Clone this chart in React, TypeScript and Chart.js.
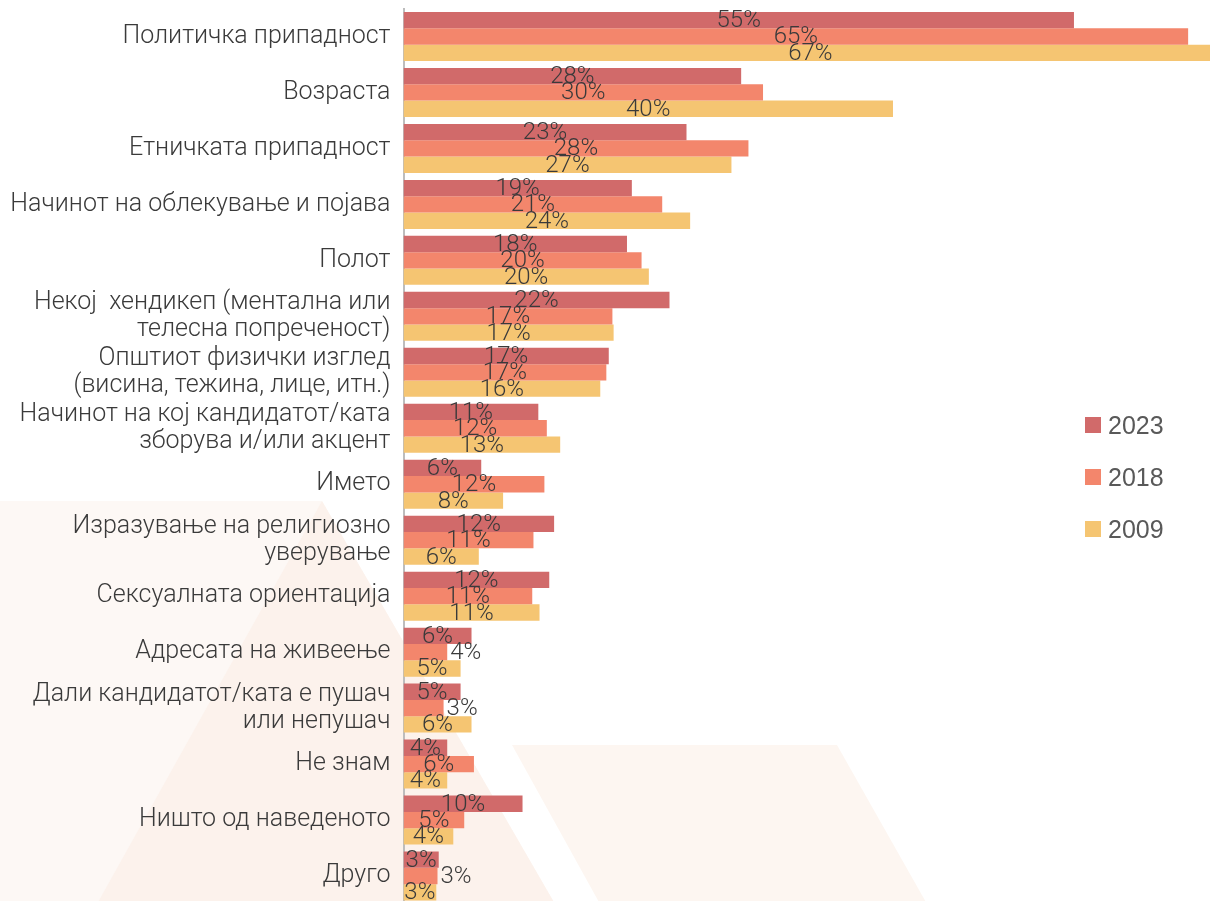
import React, { useEffect, useRef } from "react";
import { Chart, registerables } from "chart.js";

Chart.register(...registerables);

const categories: (string | string[])[] = [
  "Политичка припадност",
  "Возраста",
  "Етничката припадност",
  "Начинот на облекување и појава",
  "Полот",
  ["Некој  хендикеп (ментална или", "телесна попреченост)"],
  ["Општиот физички изглед", "(висина, тежина, лице, итн.)"],
  ["Начинот на кој кандидатот/ката", "зборува и/или акцент"],
  "Името",
  ["Изразување на религиозно", "уверување"],
  "Сексуалната ориентација",
  "Адресата на живеење",
  ["Дали кандидатот/ката е пушач", "или непушач"],
  "Не знам",
  "Ништо од наведеното",
  "Друго",
];

const seriesNames = ["2023", "2018", "2009"];
const values2023 = [55.2, 27.8, 23.3, 18.8, 18.4, 21.9, 16.9, 11.1, 6.4, 12.4, 12.0, 5.6, 4.7, 3.6, 9.8, 2.9];
const values2018 = [64.6, 29.6, 28.4, 21.3, 19.6, 17.2, 16.7, 11.8, 11.6, 10.7, 10.6, 3.6, 3.3, 5.8, 5.0, 2.8];
const values2009 = [67.0, 40.3, 27.0, 23.6, 20.2, 17.3, 16.2, 12.9, 8.2, 6.2, 11.2, 4.7, 5.6, 3.6, 4.1, 2.7];

const seriesColors = ["#d16a6a", "#f3866c", "#f5c572"];

const backgroundPlugin = {
  id: "bgShapes",
  beforeDraw(chart: any) {
    const ctx = chart.ctx;
    ctx.save();
    ctx.fillStyle = "#fdf8f5";
    ctx.beginPath();
    ctx.moveTo(0, 501);
    ctx.lineTo(322, 501);
    ctx.lineTo(555, 904);
    ctx.lineTo(0, 904);
    ctx.closePath();
    ctx.fill();
    ctx.fillStyle = "#fcf2ec";
    ctx.beginPath();
    ctx.moveTo(97, 904);
    ctx.lineTo(322, 501);
    ctx.lineTo(555, 904);
    ctx.closePath();
    ctx.fill();
    ctx.fillStyle = "#fdf6f1";
    ctx.beginPath();
    ctx.moveTo(512, 745);
    ctx.lineTo(837, 745);
    ctx.lineTo(927, 904);
    ctx.lineTo(600, 904);
    ctx.closePath();
    ctx.fill();
    ctx.restore();
  },
};

const labelPlugin = {
  id: "barLabels",
  afterDatasetsDraw(chart: any) {
    const ctx = chart.ctx;
    ctx.save();
    ctx.font = "300 24px Roboto";
    ctx.fillStyle = "#3a3a3a";
    ctx.textBaseline = "middle";
    chart.data.datasets.forEach((ds: any, di: number) => {
      const meta = chart.getDatasetMeta(di);
      meta.data.forEach((bar: any, i: number) => {
        const text = Math.round(ds.data[i]) + "%";
        const w = ctx.measureText(text).width;
        const barW = bar.x - bar.base;
        if (di === 1 && barW < w + 14) {
          ctx.textAlign = "left";
          ctx.fillText(text, bar.x + 3, bar.y + 1);
        } else {
          ctx.textAlign = "center";
          ctx.fillText(text, (bar.x + bar.base) / 2, bar.y + 1);
        }
      });
    });
    ctx.restore();
  },
};

export default function App() {
  const canvasRef = useRef<HTMLCanvasElement | null>(null);

  useEffect(() => {
    document.body.style.margin = "0";
    const canvas = canvasRef.current;
    if (!canvas) return;
    const data = [values2023, values2018, values2009];
    const chart = new Chart(canvas, {
      type: "bar",
      data: {
        labels: categories,
        datasets: seriesNames.map((name, i) => ({
          label: name,
          data: data[i],
          backgroundColor: seriesColors[i],
          borderWidth: 0,
          categoryPercentage: 0.876,
          barPercentage: 1.0,
        })),
      },
      options: {
        indexAxis: "y",
        responsive: false,
        animation: false,
        devicePixelRatio: 1,
        layout: { padding: { top: 8.5, left: 0, right: 0, bottom: 0 } },
        plugins: {
          legend: { display: false },
          tooltip: { enabled: false },
        },
        scales: {
          x: {
            display: false,
            min: 0,
            max: 66.4,
          },
          y: {
            grid: { display: false, drawTicks: false },
            border: { display: true, color: "#bdbdbd", width: 2 },
            ticks: {
              autoSkip: false,
              color: "#3a3a3a",
              padding: 13,
              font: { family: "Roboto", size: 25, weight: "300", lineHeight: 1.06 },
            },
            afterFit: (scale: any) => {
              scale.width = 403.5;
              scale.paddingTop = 0;
              scale.paddingBottom = 0;
            },
          },
        },
      },
      plugins: [backgroundPlugin, labelPlugin],
    } as any);
    return () => chart.destroy();
  }, []);

  return (
    <div style={{ position: "relative", width: 1210, height: 901, overflow: "hidden", background: "#fff" }}>
      <canvas ref={canvasRef} width={1210} height={904} style={{ display: "block" }} />
      {seriesNames.map((name, i) => (
        <div
          key={name}
          style={{
            position: "absolute",
            left: 1085,
            top: 409 + 52 * i,
            height: 32,
            display: "flex",
            alignItems: "center",
            gap: 7,
          }}
        >
          <span style={{ width: 16, height: 16, background: seriesColors[i], display: "inline-block" }} />
          <span style={{ font: "25px 'Liberation Sans', Arial, sans-serif", color: "#595959", lineHeight: "32px" }}>
            {name}
          </span>
        </div>
      ))}
    </div>
  );
}
